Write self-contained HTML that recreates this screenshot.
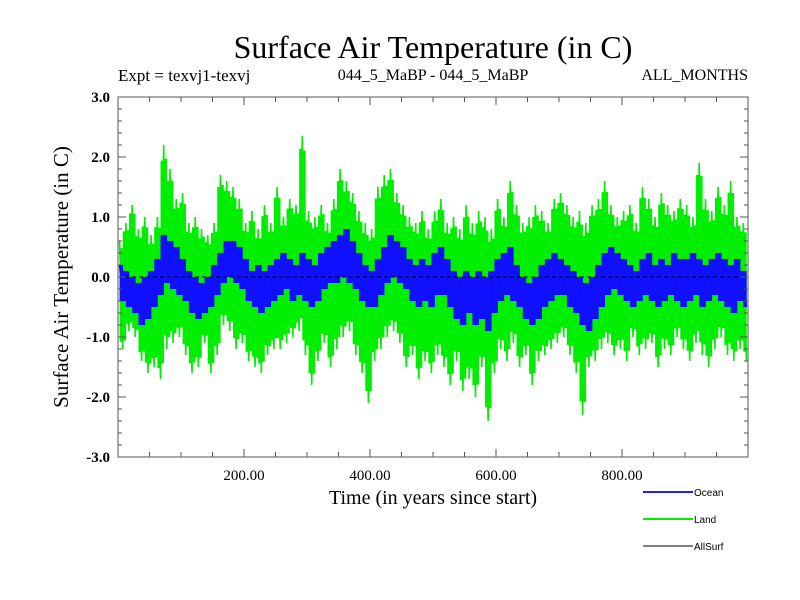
<!DOCTYPE html>
<html><head><meta charset="utf-8"><style>
body{margin:0;background:#fff}
svg{display:block}
text{font-family:"Liberation Serif",serif}
</style></head><body>
<svg id="c" width="800" height="600" xmlns="http://www.w3.org/2000/svg">
<text x="433" y="58" font-size="32" text-anchor="middle">Surface Air Temperature (in C)</text>
<text x="118" y="81" font-size="17">Expt = texvj1-texvj</text>
<text x="433" y="80" font-size="16" text-anchor="middle">044_5_MaBP - 044_5_MaBP</text>
<text x="748" y="80" font-size="16" text-anchor="end">ALL_MONTHS</text>
<text transform="translate(68,277) rotate(-90)" font-size="21" text-anchor="middle">Surface Air Temperature (in C)</text>
<text x="433" y="504" font-size="20" text-anchor="middle">Time (in years since start)</text>
<g id="plot"></g>
<g id="axes"></g>
<g>
<line x1="643" y1="492" x2="693" y2="492" stroke="#2020ff" stroke-width="2"/>
<text x="694" y="496" font-size="10" style="font-family:'Liberation Sans',sans-serif">Ocean</text>
<line x1="643" y1="519" x2="693" y2="519" stroke="#00ee00" stroke-width="2"/>
<text x="694" y="523" font-size="10" style="font-family:'Liberation Sans',sans-serif">Land</text>
<line x1="643" y1="546" x2="693" y2="546" stroke="#000" stroke-width="1"/>
<text x="694" y="550" font-size="10" style="font-family:'Liberation Sans',sans-serif">AllSurf</text>
</g>
</svg>
<script>
const xTicks=[200,400,600,800];
const xTickLabels=["200.00","400.00","600.00","800.00"];
const yTicks=[-3,-2,-1,0,1,2,3];
const yTickLabels=["-3.0","-2.0","-1.0","0.0","1.0","2.0","3.0"];
const step=5;
const land=[0.6,-1.2,0.9,-0.9,1.2,-1.0,0.8,-1.4,1.0,-1.6,
0.7,-1.5,1.0,-1.7,2.2,-1.2,1.8,-1.1,1.3,-1.0,
1.4,-1.3,0.9,-1.6,1.0,-1.5,0.8,-1.1,0.7,-1.6,
0.9,-1.3,1.7,-0.8,1.6,-0.9,1.5,-1.2,1.3,-1.1,
0.9,-1.4,1.1,-1.5,0.8,-1.6,1.2,-1.3,0.9,-1.2,
1.5,-1.2,1.0,-1.1,1.3,-1.0,1.2,-0.9,2.35,-1.3,
1.1,-1.8,1.0,-1.4,1.2,-1.1,0.9,-1.5,1.3,-1.2,
1.8,-1.0,1.6,-0.9,1.4,-1.3,1.1,-1.6,0.9,-2.1,
0.8,-1.4,1.5,-1.2,1.7,-1.0,1.8,-0.9,1.4,-1.1,
1.2,-1.5,1.0,-1.3,0.9,-1.7,1.1,-1.4,0.8,-1.6,
1.1,-1.3,1.3,-1.5,0.9,-1.8,1.0,-1.4,0.8,-1.9,
1.2,-1.7,0.9,-2.0,1.1,-1.5,1.0,-2.4,0.8,-1.6,
1.3,-1.2,1.0,-1.4,1.6,-1.1,1.2,-1.5,0.9,-1.3,
1.0,-1.8,1.2,-1.4,1.1,-1.3,0.9,-1.2,1.3,-1.1,
1.4,-1.0,1.2,-1.3,1.0,-1.6,1.1,-2.3,0.9,-1.5,
1.2,-1.4,1.3,-1.2,1.6,-1.1,1.2,-1.3,1.0,-1.2,
1.1,-1.4,1.2,-1.0,0.9,-1.3,1.5,-1.2,1.3,-1.1,
1.0,-1.5,1.4,-1.2,1.2,-1.3,1.1,-1.0,1.3,-1.2,
1.2,-1.4,1.0,-1.1,1.9,-1.3,1.3,-1.5,1.1,-1.2,
1.5,-1.0,1.2,-1.3,1.6,-1.4,1.0,-1.2,0.9,-1.4];
const ocean=[0.2,-0.4,0.1,-0.5,0.0,-0.6,-0.1,-0.8,0.0,-0.7,
0.1,-0.5,0.3,-0.3,0.7,-0.1,0.6,-0.2,0.5,-0.3,
0.3,-0.4,0.1,-0.6,0.0,-0.7,-0.1,-0.6,0.0,-0.5,
0.2,-0.3,0.4,-0.1,0.6,0.0,0.6,-0.1,0.5,-0.2,
0.3,-0.4,0.1,-0.5,0.2,-0.6,0.1,-0.5,0.2,-0.4,
0.3,-0.3,0.4,-0.2,0.3,-0.4,0.2,-0.3,0.4,-0.4,
0.3,-0.5,0.2,-0.4,0.4,-0.2,0.5,-0.1,0.6,-0.1,
0.7,0.0,0.8,-0.1,0.6,-0.2,0.4,-0.4,0.2,-0.5,
0.1,-0.5,0.3,-0.3,0.5,-0.1,0.7,0.0,0.6,-0.1,
0.5,-0.2,0.3,-0.4,0.2,-0.5,0.3,-0.4,0.2,-0.5,
0.4,-0.3,0.5,-0.3,0.3,-0.5,0.1,-0.7,0.0,-0.8,
0.1,-0.6,0.0,-0.8,0.1,-0.7,0.0,-0.9,0.1,-0.6,
0.3,-0.4,0.4,-0.3,0.5,-0.4,0.2,-0.5,0.0,-0.7,
-0.1,-0.8,0.0,-0.7,0.2,-0.5,0.3,-0.4,0.4,-0.3,
0.3,-0.3,0.2,-0.5,0.1,-0.6,0.0,-0.8,-0.1,-0.9,
0.0,-0.7,0.2,-0.5,0.4,-0.3,0.5,-0.2,0.4,-0.3,
0.3,-0.4,0.2,-0.5,0.1,-0.4,0.3,-0.3,0.4,-0.4,
0.2,-0.5,0.3,-0.4,0.2,-0.3,0.4,-0.4,0.3,-0.5,
0.3,-0.4,0.4,-0.3,0.3,-0.5,0.2,-0.4,0.3,-0.3,
0.4,-0.4,0.3,-0.5,0.2,-0.6,0.3,-0.4,0.1,-0.5];
const X0=118,X1=748,Y0=97,Y1=457,xmin=0,xmax=1000,ymin=-3,ymax=3;
const sx=v=>X0+(v-xmin)/(xmax-xmin)*(X1-X0);
const sy=v=>Y1-(v-ymin)/(ymax-ymin)*(Y1-Y0);
const NS="http://www.w3.org/2000/svg";
function mk(t,a,p){const e=document.createElementNS(NS,t);for(const k in a)e.setAttribute(k,a[k]);p.appendChild(e);return e;}
const plot=document.getElementById('plot'),axes=document.getElementById('axes');
function series(arr,col,inset,name){
 const g=mk('g',{},plot);
 
 
 for(let i=0;i<arr.length-1;i++){
  const a=sx(i*step+step/2),b=sx((i+1)*step+step/2);
  const lo=Math.min(arr[i],arr[i+1]),hi=Math.max(arr[i],arr[i+1]);
  const r=mk('rect',{x:a,width:b-a+0.3,y:sy(hi)+(hi-lo)*inset,height:Math.max(0,sy(lo)-sy(hi)-(hi-lo)*2*inset),fill:col},g);
  
  
 }
 const pts=arr.map((v,i)=>sx(i*step+step/2).toFixed(1)+','+sy(v).toFixed(1)).join(' ');
 const p=mk('polyline',{points:pts,fill:'none',stroke:col,'stroke-width':1.6},g);
 
 
}
series(land,'#00ee00',4,'land-series');
series(ocean,'#1010ff',0,'ocean-series');
const z=mk('line',{x1:X0,x2:X1,y1:sy(0),y2:sy(0),stroke:'#000','stroke-width':1,'stroke-dasharray':'4,3'},plot);


const fr=mk('rect',{x:X0,y:Y0,width:X1-X0,height:Y1-Y0,fill:'none',stroke:'#555','stroke-width':1},axes);


for(let v=ymin;v<=ymax+1e-9;v+=0.2){
 const y=sy(v),maj=Math.abs(v-Math.round(v))<1e-6,L=maj?8:4;
 mk('line',{x1:X0,x2:X0+L,y1:y,y2:y,stroke:'#555'},axes);
 mk('line',{x1:X1,x2:X1-L,y1:y,y2:y,stroke:'#555'},axes);
}
for(let v=50;v<xmax;v+=50){
 const x=sx(v),maj=v%200===0,L=maj?8:5;
 mk('line',{x1:x,x2:x,y1:Y1,y2:Y1-L,stroke:'#555'},axes);
 mk('line',{x1:x,x2:x,y1:Y0,y2:Y0+L,stroke:'#555'},axes);
}
yTicks.forEach((v,i)=>{
 const t=mk('text',{x:110,y:sy(v)+5,'font-size':15,'font-weight':'bold','text-anchor':'end'},axes);
 t.textContent=yTickLabels[i];
 
 
});
xTicks.forEach((v,i)=>{
 const t=mk('text',{x:sx(v),y:480,'font-size':15,'text-anchor':'middle'},axes);
 t.textContent=xTickLabels[i];
 
 
});
</script>
</body></html>
